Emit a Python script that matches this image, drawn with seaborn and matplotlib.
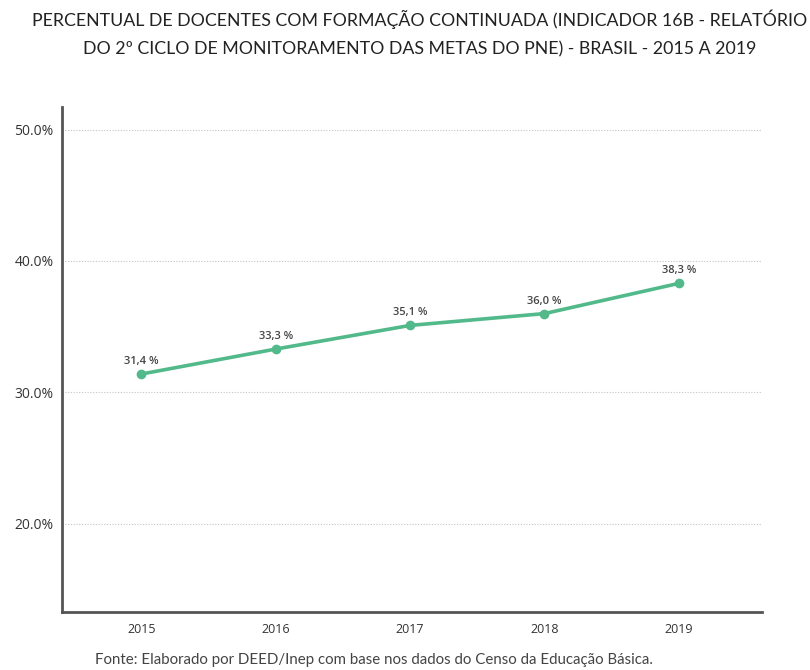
import pandas as pd
import seaborn as sns
import matplotlib.pyplot as plt

ANOS = [2015, 2016, 2017, 2018, 2019]
PERCENTUAIS = [31.4, 33.3, 35.1, 36.0, 38.3]
ROTULOS = ["31,4 %", "33,3 %", "35,1 %", "36,0 %", "38,3 %"]
Y_TICKS = [20, 30, 40, 50]

TITULO = ("PERCENTUAL DE DOCENTES COM FORMAÇÃO CONTINUADA (INDICADOR 16B - RELATÓRIO\n"
          "DO 2º CICLO DE MONITORAMENTO DAS METAS DO PNE) - BRASIL - 2015 A 2019")
FONTE = "Fonte: Elaborado por DEED/Inep com base nos dados do Censo da Educação Básica."
COR = "#52b98b"


def make_chart():
    df = pd.DataFrame({"ano": ANOS, "pct": PERCENTUAIS})
    sns.set_style("white")
    plt.rcParams["font.family"] = ["Lato", "DejaVu Sans"]

    fig = plt.figure(figsize=(8.1, 6.7), dpi=100)
    ax = fig.add_axes([0.0765, 0.0866, 0.8645, 0.7534])

    sns.lineplot(data=df, x="ano", y="pct", color=COR, linewidth=2.6,
                 marker="o", markersize=7, markeredgewidth=0, ax=ax)

    for x, y, txt in zip(ANOS, PERCENTUAIS, ROTULOS):
        ax.annotate(txt, (x, y), xytext=(0, 5), textcoords="offset points",
                    ha="center", va="bottom", fontsize=8, color="#444444",
                    family="Open Sans", fontweight="semibold")

    ax.set_xlim(2014.41, 2019.62)
    ax.set_ylim(13.3, 51.7)
    ax.set_xticks(ANOS)
    ax.set_xticklabels([str(a) for a in ANOS], fontsize=9, color="#333333",
                       family="Open Sans")
    ax.set_yticks(Y_TICKS)
    ax.set_yticklabels([f"{v:.1f}%" for v in Y_TICKS], fontsize=10, color="#333333",
                       family="Open Sans")
    ax.yaxis.grid(True, linestyle=(0, (1, 1.5)), color="#c4c4c4", linewidth=0.8)
    ax.xaxis.grid(False)
    ax.tick_params(axis="y", length=0, pad=6)
    ax.tick_params(axis="x", length=0, pad=8)
    ax.set_xlabel("")
    ax.set_ylabel("")

    sns.despine(ax=ax)
    for s in ["left", "bottom"]:
        ax.spines[s].set_color("#555555")
        ax.spines[s].set_linewidth(2)

    fig.text(0.518, 0.950, TITULO, ha="center", va="center", fontsize=12.8,
             color="#222222", linespacing=1.95)
    fig.text(0.117, 0.015, FONTE, ha="left", va="center", fontsize=10.8,
             color="#444444")

    plt.savefig("out.png", dpi=100)


if __name__ == "__main__":
    make_chart()
